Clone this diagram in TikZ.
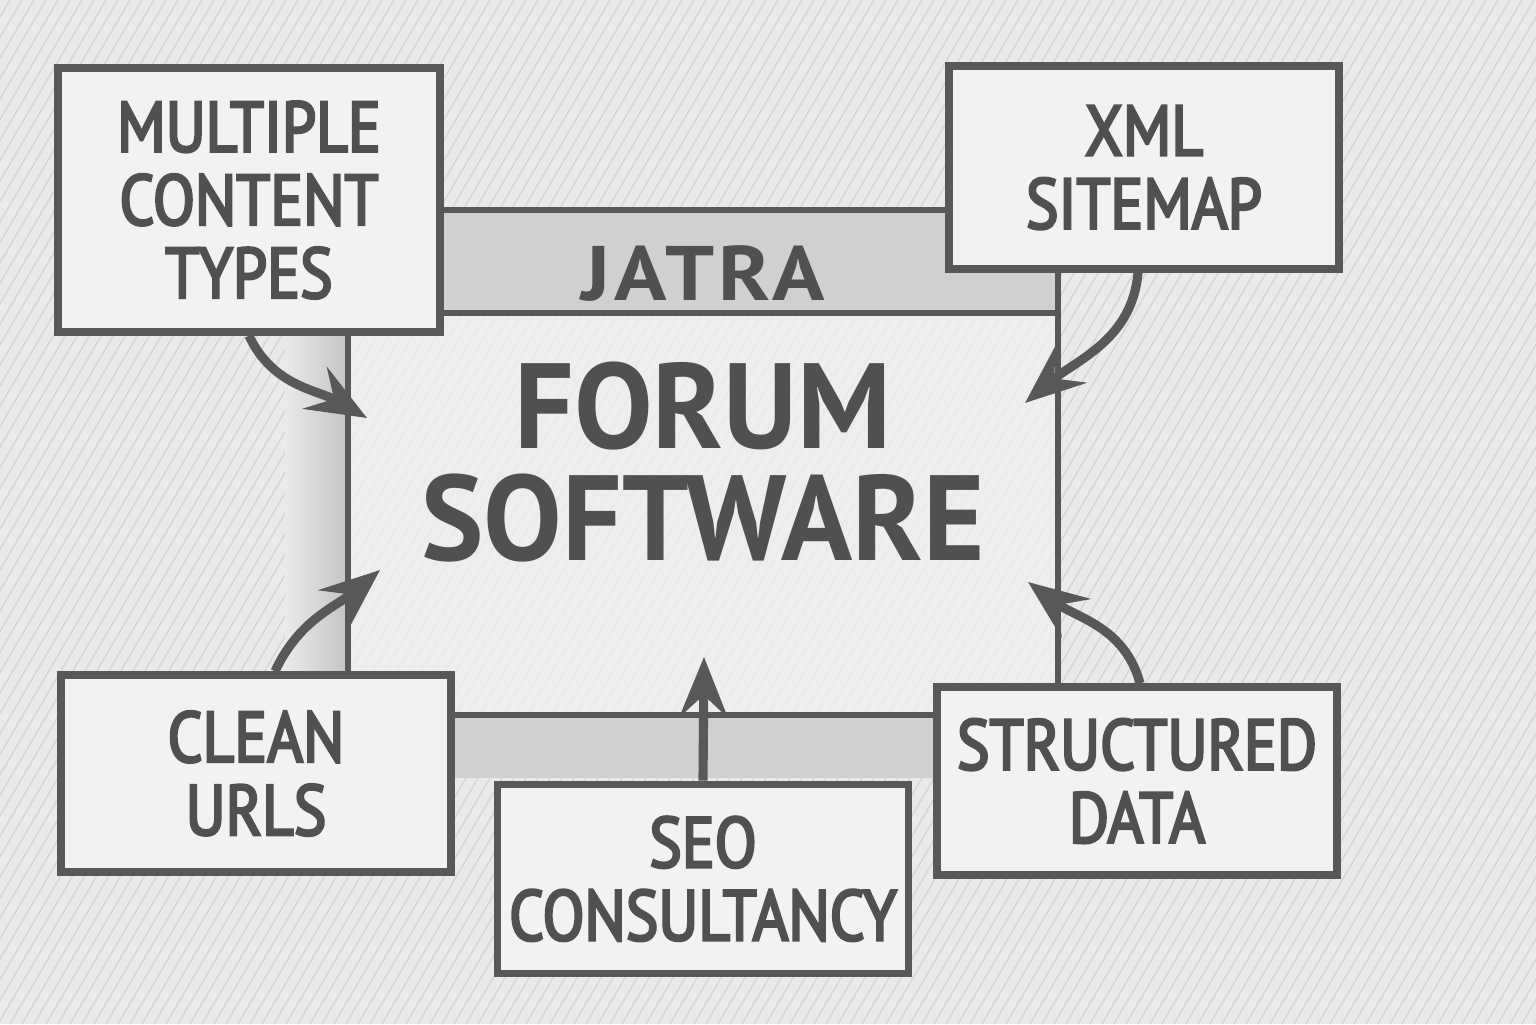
\documentclass[tikz,border=0pt]{standalone}
\usepackage{fontspec}
\setmainfont{PT Sans}[FakeStretch=0.88]
\newfontfamily\labelFont{PT Sans}[FakeStretch=0.86, FakeBold=3.5]
\newfontfamily\hubFont{PT Sans}[FakeStretch=0.97]
\newfontfamily\bandFont{PT Sans}[FakeStretch=1.12, LetterSpace=6]
\usepackage{xcolor}
\usepackage{tikz}
\usetikzlibrary{positioning,arrows.meta}
\definecolor{paperGray}{RGB}{234,234,234}
\definecolor{hatchGray}{RGB}{214,214,214}
\definecolor{boxWhite}{RGB}{242,242,242}
\definecolor{hubWhite}{RGB}{240,240,240}
\definecolor{bandGray}{RGB}{208,208,208}
\definecolor{shadowGray}{RGB}{196,196,196}
\definecolor{pencilGray}{RGB}{88,88,88}
\definecolor{inkGray}{RGB}{80,80,80}
\tikzset{
  featureBox/.style={
    rectangle,
    draw=pencilGray,
    line width=2.1pt,
    fill=boxWhite,
    align=center,
    text=inkGray,
    font=\labelFont\fontsize{20.3}{20.8}\selectfont
  },
  hubBox/.style={
    rectangle,
    draw=pencilGray,
    line width=1.5pt,
    fill=hubWhite,
    fill opacity=0.75,
    text opacity=1,
    align=center,
    text=inkGray,
    font=\hubFont\bfseries\fontsize{34.5}{31.9}\selectfont
  },
  bandBox/.style={
    rectangle,
    draw=pencilGray,
    line width=1.7pt,
    fill=bandGray,
    text=inkGray,
    text height=0.77cm,
    text depth=0pt,
    font=\bandFont\bfseries\fontsize{22}{24}\selectfont
  },
  arrowLine/.style={
    -{Stealth[length=6mm,width=4.8mm,inset=2.2mm]},
    line width=2.6pt,
    draw=pencilGray
  },
  hatchLine/.style={
    draw=hatchGray,
    line width=0.4pt
  }
}
\begin{document}
\begin{tikzpicture}[node distance=0.63cm]
  \fill[paperGray] (0,0) rectangle (15.36,10.24);
  \useasboundingbox (0,0) rectangle (15.36,10.24);
  \begin{scope}
    \clip (0,0) rectangle (15.36,10.24);
    \foreach \x in {-6.5,-6.38,...,15.4}
      \draw[hatchLine] (\x,0) -- ++(6,10.24);
  \end{scope}

  \shade[left color=paperGray, right color=shadowGray] (2.85,3.3) rectangle (3.48,7.0);
  \fill[bandGray] (4.4,3.09) rectangle (9.4,2.46);

  \node[hubBox, minimum width=7.1cm, minimum height=5.05cm] (hub) at (7.03,5.615) {FORUM\\SOFTWARE};
  \node[bandBox, anchor=north, minimum width=7.1cm, minimum height=1.03cm] (band) at (hub.north) {JATRA};

  \node[featureBox, minimum width=3.82cm, minimum height=2.64cm] (mct) at (2.49,8.24) {MULTIPLE\\CONTENT\\TYPES};
  \node[featureBox, minimum width=3.9cm, minimum height=2.03cm] (xml) at (11.44,8.565) {XML\\SITEMAP};
  \node[featureBox, minimum width=3.9cm, minimum height=1.97cm] (clean) at (2.56,2.505) {CLEAN\\URLS};
  \node[featureBox, minimum width=3.88cm, minimum height=1.89cm, below=of hub] (seo) {SEO\\CONSULTANCY};
  \node[featureBox, minimum width=4cm, minimum height=1.88cm] (struct) at (11.37,2.43) {STRUCTURED\\DATA};

  \coordinate (mctTip) at (3.67,6.06);
  \coordinate (xmlTip) at (10.25,6.21);
  \coordinate (cleanTip) at (3.8,4.54);
  \coordinate (structTip) at (10.28,4.42);
  \coordinate (seoTip) at (7.04,3.67);

  \draw[arrowLine] (mct.south) to[out=-65, in=150] (mctTip);
  \draw[arrowLine] ([xshift=-0.06cm]xml.south) to[out=-95, in=40] (xmlTip);
  \draw[arrowLine] ([xshift=0.19cm]clean.north) to[out=65, in=-140] (cleanTip);
  \draw[arrowLine] ([xshift=0.03cm]struct.north) to[out=105, in=-37] (structTip);
  \draw[arrowLine] (seo.north) -- (seoTip);
\end{tikzpicture}
\end{document}
